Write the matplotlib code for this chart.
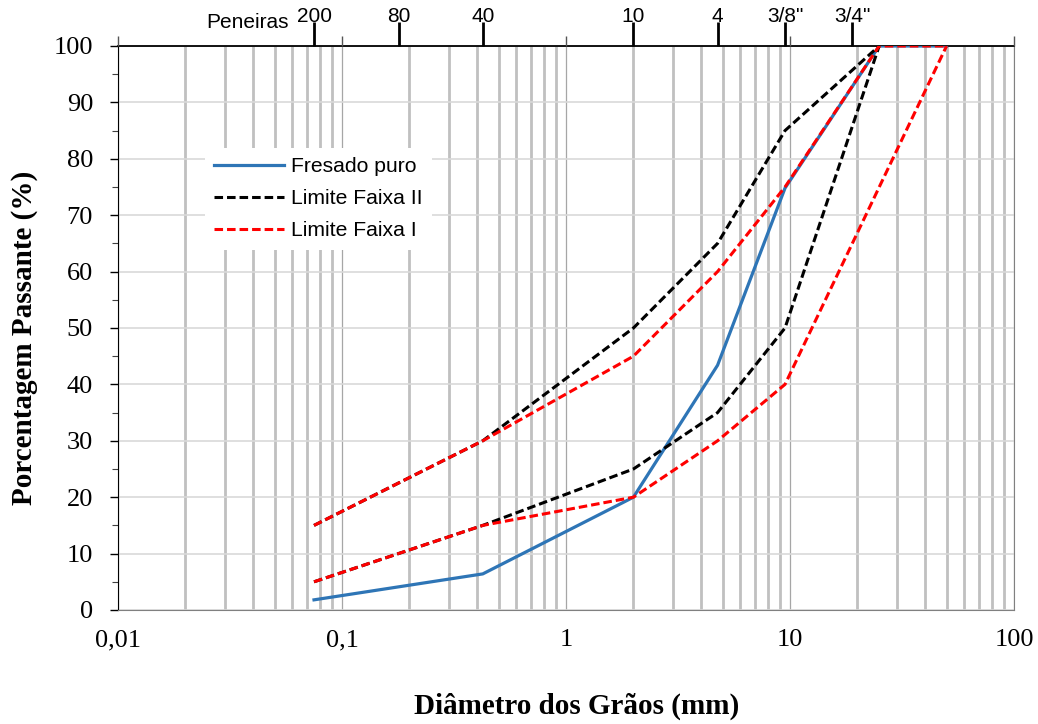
import numpy as np
import matplotlib
matplotlib.use("Agg")
import matplotlib.pyplot as plt
from matplotlib.ticker import LogLocator, NullFormatter, MultipleLocator

# curva granulométrica
diam_mm = [0.075, 0.425, 2.0, 4.75, 9.5, 25.0, 50.0]
fresado = [1.8, 6.4, 20.0, 43.4, 74.8, 100, 100]

faixa2_d = [0.075, 0.425, 2.0, 4.75, 9.5, 25.0]
faixa2_sup = [15, 30, 50, 65, 85, 100]
faixa2_inf = [5, 15, 25, 35, 50, 100]

faixa1_sup_d = [0.075, 0.425, 2.0, 4.75, 9.5, 25.0, 50.0]
faixa1_sup = [15, 30, 45, 60, 75, 100, 100]
faixa1_inf_d = [0.075, 0.425, 2.0, 4.75, 9.5, 50.0]
faixa1_inf = [5, 15, 20, 30, 40, 100]

peneiras_mm = [0.075, 0.18, 0.425, 2.0, 4.75, 9.5, 19.0]
peneiras = ["200", "80", "40", "10", "4", '3/8"', '3/4"']

x_ticks = [0.01, 0.1, 1, 10, 100]
x_labels = ["0,01", "0,1", "1", "10", "100"]

serif = "Liberation Serif"
sans = "Liberation Sans"

fig = plt.figure(figsize=(10.38, 7.24), dpi=100)
ax = fig.add_axes([118 / 1038, 1 - 610 / 724, 896 / 1038, 564 / 724])

ax.set_xscale("log")
ax.set_xlim(0.01, 100)
ax.set_ylim(0, 100)

# grade
ax.xaxis.set_minor_locator(LogLocator(base=10, subs=np.arange(2, 10)))
ax.xaxis.set_minor_formatter(NullFormatter())
ax.grid(which="minor", axis="x", color="#c0c0c0", lw=2.0, zorder=0)
ax.grid(which="major", axis="x", color="#a6a6a6", lw=0.9, zorder=0)
ax.grid(which="major", axis="y", color="#d9d9d9", lw=1.2, zorder=0)
ax.set_axisbelow(True)

dash = (2.8, 1.3)
ax.plot(diam_mm, fresado, color="#2E75B6", lw=2.3, label="Fresado puro", zorder=3)
ax.plot(faixa2_d, faixa2_sup, color="black", lw=2.2, ls=(0, dash),
        label="Limite Faixa II", zorder=4)
ax.plot(faixa2_d, faixa2_inf, color="black", lw=2.2, ls=(0, dash), zorder=4)
ax.plot(faixa1_sup_d, faixa1_sup, color="#FF0000", lw=2.2, ls=(0, dash),
        label="Limite Faixa I", zorder=5)
ax.plot(faixa1_inf_d, faixa1_inf, color="#FF0000", lw=2.2, ls=(0, dash), zorder=5)

ax.set_xticks(x_ticks, labels=x_labels)
ax.set_yticks(np.arange(0, 101, 10))
ax.yaxis.set_minor_locator(MultipleLocator(5))
ax.tick_params(axis="x", which="both", length=0, pad=14)
ax.tick_params(axis="y", which="major", direction="out", length=6, width=1, pad=12)
ax.tick_params(axis="y", which="minor", direction="out", length=4, width=0.8,
               color="#404040")
for lab in ax.get_xticklabels() + ax.get_yticklabels():
    lab.set_fontfamily(serif)
    lab.set_fontsize(19)

ax.spines["left"].set_color("black")
ax.spines["top"].set_color("black")
ax.spines["top"].set_linewidth(1.3)
ax.spines["right"].set_color("#808080")
ax.spines["bottom"].set_color("#808080")

fig.text(25 / 1038, 1 - 338 / 724, "Porcentagem Passante (%)", fontfamily=serif,
         fontsize=21, fontweight="bold", rotation=90, ha="center", va="center")
fig.text(577 / 1038, 1 - 720 / 724, "Diâmetro dos Grãos (mm)", fontfamily=serif,
         fontsize=21, fontweight="bold", ha="center", va="bottom")

# eixo superior com as peneiras
ax2 = ax.twiny()
ax2.set_xscale("log")
ax2.set_xlim(ax.get_xlim())
ax2.set_xticks(peneiras_mm, labels=peneiras)
ax2.set_xticks(x_ticks, minor=True)
ax2.xaxis.set_minor_formatter(NullFormatter())
ax2.tick_params(axis="x", which="major", direction="out", length=17, width=2,
                pad=-2.5, labelsize=15)
ax2.tick_params(axis="x", which="minor", direction="out", length=7, width=1,
                color="#555555")
for lab in ax2.get_xticklabels():
    lab.set_fontfamily(sans)
for sp in ax2.spines.values():
    sp.set_visible(False)
fig.text(248 / 1038, 1 - 23 / 724, "Peneiras", fontfamily=sans, fontsize=15,
         ha="center", va="center")

leg = ax.legend(loc="upper left", bbox_to_anchor=(0.097, 0.82),
                borderaxespad=0, frameon=True, fancybox=False,
                prop={"family": sans, "size": 15.2}, handlelength=3.3,
                handletextpad=0.35, labelspacing=0.62, borderpad=0.45)
leg.get_frame().set_facecolor("white")
leg.get_frame().set_edgecolor("none")
leg.get_frame().set_alpha(1)
leg.set_zorder(10)

fig.savefig("out.png", dpi=100)
